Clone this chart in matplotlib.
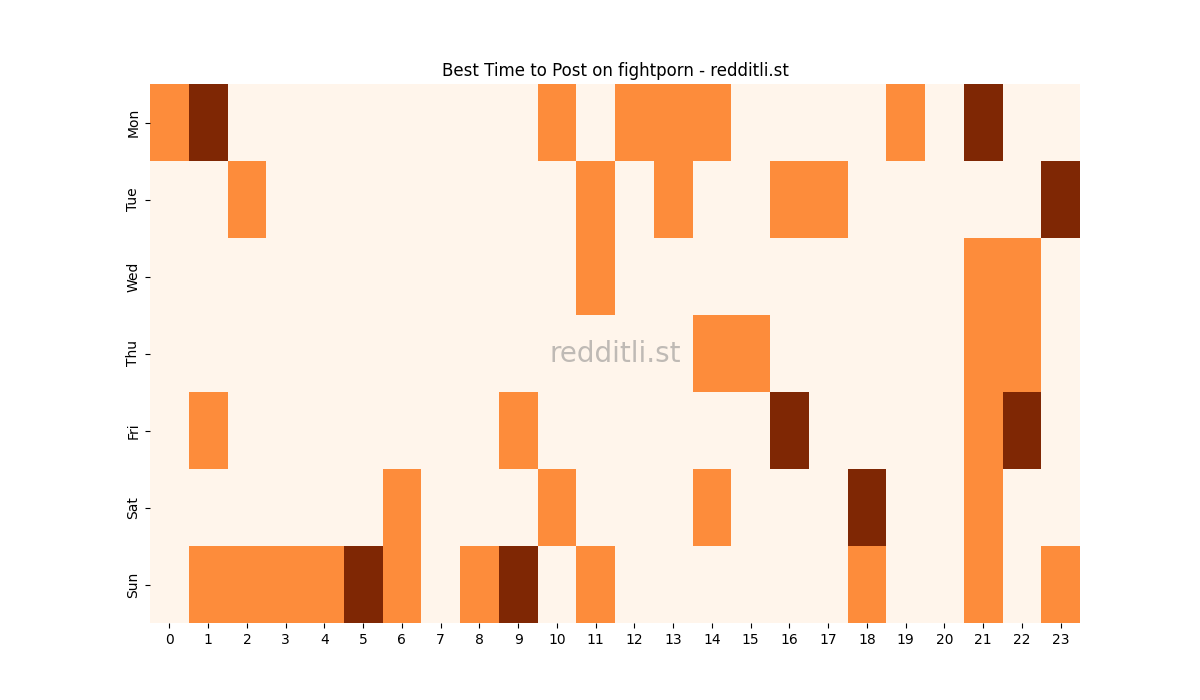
import matplotlib
matplotlib.use("Agg")
import matplotlib.pyplot as plt
import seaborn as sns
import numpy as np

days = ["Mon", "Tue", "Wed", "Thu", "Fri", "Sat", "Sun"]
hours = list(range(24))

# 0 = low, 1 = medium, 2 = high
mon = [1, 2, 0, 0, 0, 0, 0, 0, 0, 0, 1, 0, 1, 1, 1, 0, 0, 0, 0, 1, 0, 2, 0, 0]
tue = [0, 0, 1, 0, 0, 0, 0, 0, 0, 0, 0, 1, 0, 1, 0, 0, 1, 1, 0, 0, 0, 0, 0, 2]
wed = [0, 0, 0, 0, 0, 0, 0, 0, 0, 0, 0, 1, 0, 0, 0, 0, 0, 0, 0, 0, 0, 1, 1, 0]
thu = [0, 0, 0, 0, 0, 0, 0, 0, 0, 0, 0, 0, 0, 0, 1, 1, 0, 0, 0, 0, 0, 1, 1, 0]
fri = [0, 1, 0, 0, 0, 0, 0, 0, 0, 1, 0, 0, 0, 0, 0, 0, 2, 0, 0, 0, 0, 1, 2, 0]
sat = [0, 0, 0, 0, 0, 0, 1, 0, 0, 0, 1, 0, 0, 0, 1, 0, 0, 0, 2, 0, 0, 1, 0, 0]
sun = [0, 1, 1, 1, 1, 2, 1, 0, 1, 2, 0, 1, 0, 0, 0, 0, 0, 0, 1, 0, 0, 1, 0, 1]

grid = np.array([mon, tue, wed, thu, fri, sat, sun])

fig, ax = plt.subplots(figsize=(12, 7), dpi=100)
sns.heatmap(grid, cmap="Oranges", vmin=0, vmax=2, cbar=False,
            xticklabels=hours, yticklabels=days, ax=ax)
ax.set_yticklabels(days, rotation=90, va="center")
ax.set_xticklabels(hours, rotation=0)
ax.set_title("Best Time to Post on fightporn - redditli.st")
ax.text(0.5, 0.5, "redditli.st", transform=ax.transAxes, ha="center", va="center",
        fontsize=20, color="gray", alpha=0.5)

fig.savefig("out.png")
